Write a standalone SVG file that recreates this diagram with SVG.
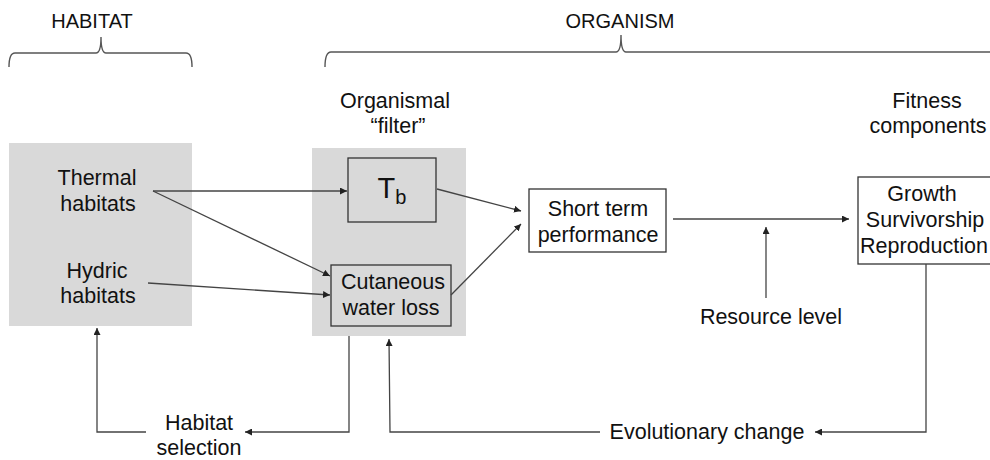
<svg xmlns="http://www.w3.org/2000/svg" width="990" height="460" viewBox="0 0 990 460">
<defs>
<marker id="ah" viewBox="0 0 10 10" refX="10" refY="5" markerWidth="7" markerHeight="7" markerUnits="userSpaceOnUse" orient="auto">
<path d="M0,0 L10,5 L0,10 z" fill="#222"/>
</marker>
<style>
text{font-family:"Liberation Sans",Arial,sans-serif;font-size:21.5px;fill:#111;text-anchor:middle}
.hd{font-size:20px}
.gray{fill:#d9d9d9;stroke:none}
.box{fill:#fff;stroke:#333;stroke-width:1.3}
.boxg{fill:#d9d9d9;stroke:#333;stroke-width:1.3}
.a{fill:none;stroke:#444;stroke-width:1.3;marker-end:url(#ah)}
.br{fill:none;stroke:#555;stroke-width:1.4}
</style>
</defs>
<rect width="990" height="460" fill="#fff"/>
<g id="habitat-label">
<text class="hd" x="92" y="28">HABITAT</text>
<path class="br" d="M9,67 Q9,53 15,53 L96,53 Q101,53 101,37 Q101,53 106,53 L186,53 Q192,53 192,67"/>
</g>
<g id="organism-label">
<text class="hd" x="620" y="28">ORGANISM</text>
<path class="br" d="M325,67 Q325,52 331,52 L616,52 Q621,52 621,35 Q621,52 626,52 L995,52"/>
</g>
<g id="habitats">
<rect class="gray" x="9" y="143" width="183" height="183"/>
<text x="97" y="185">Thermal</text>
<text x="98" y="211">habitats</text>
<text x="97" y="278">Hydric</text>
<text x="98" y="303">habitats</text>
</g>
<g id="organismal-filter">
<text x="395" y="108">Organismal</text>
<text x="398" y="133">“filter”</text>
<rect class="gray" x="312" y="148" width="154" height="188"/>
</g>
<g id="tb">
<rect class="boxg" x="348" y="158" width="88" height="64"/>
<text x="392" y="198" style="font-size:29px">T<tspan dy="6" style="font-size:20px">b</tspan></text>
</g>
<g id="cutaneous">
<rect class="boxg" x="331" y="265" width="120" height="61"/>
<text x="393" y="289">Cutaneous</text>
<text x="391" y="315">water loss</text>
</g>
<g id="short-term">
<rect class="box" x="529" y="189" width="137" height="63"/>
<text x="598" y="216">Short term</text>
<text x="598" y="242">performance</text>
</g>
<g id="fitness">
<text x="927" y="108">Fitness</text>
<text x="928" y="133">components</text>
<rect class="box" x="858" y="177" width="136" height="87"/>
<text x="922" y="201">Growth</text>
<text x="925" y="227">Survivorship</text>
<text x="924" y="253">Reproduction</text>
</g>
<g id="resource-level">
<text x="771" y="324">Resource level</text>
</g>
<g id="evolutionary-change">
<text x="707" y="439">Evolutionary change</text>
</g>
<g id="habitat-selection">
<text x="199" y="430">Habitat</text>
<text x="199" y="455">selection</text>
</g>
<g id="connectors">
<line class="a" x1="153" y1="191" x2="347" y2="191"/>
<line class="a" x1="153" y1="191" x2="330" y2="276"/>
<line class="a" x1="148" y1="283" x2="330" y2="295"/>
<line class="a" x1="437" y1="189" x2="521" y2="211"/>
<line class="a" x1="451" y1="295" x2="521" y2="224"/>
<line class="a" x1="673" y1="219" x2="849" y2="219"/>
<line class="a" x1="766" y1="298" x2="766" y2="227"/>
<polyline class="a" points="926,264 926,432 815,432"/>
<polyline class="a" points="600,432 390,432 389,339"/>
<polyline class="a" points="349,336 349,432 245,432"/>
<polyline class="a" points="146,432 97,432 97,328"/>
</g>
</svg>
